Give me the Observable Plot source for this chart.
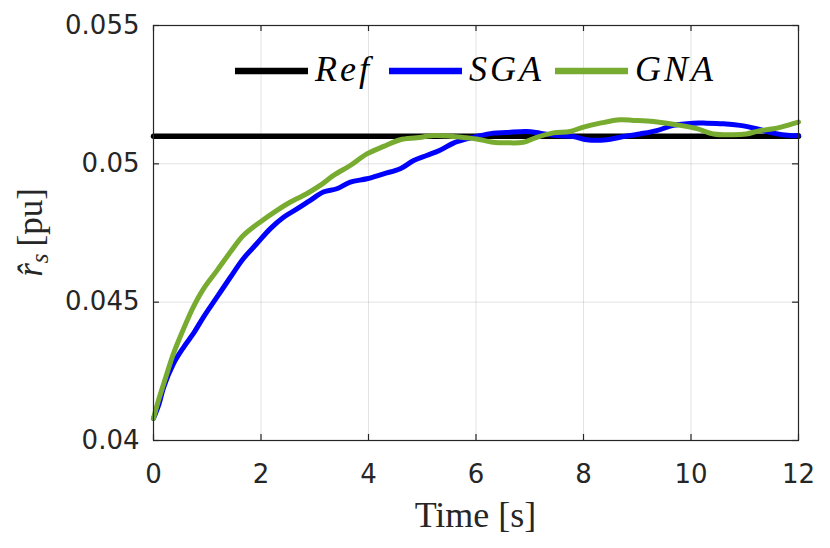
<!DOCTYPE html>
<html>
<head>
<meta charset="utf-8">
<script src="https://cdn.jsdelivr.net/npm/d3@7"></script>
<script src="https://cdn.jsdelivr.net/npm/@observablehq/plot@0.6"></script>
<style>
  html, body { margin: 0; padding: 0; background: #fff; }
  #wrap { position: relative; width: 830px; height: 548px; }
  #overlay { position: absolute; left: 0; top: 0; pointer-events: none; }
</style>
</head>
<body>
<div id="wrap"></div>
<script>
// ---- data ----
const seriesNames = ["Ref", "SGA", "GNA"];
const seriesColors = ["#000000", "#0000ff", "#77ac30"];

const refTime = [0, 12];
const refValue = [0.051, 0.051];

const sgaTime = [0, 0.1, 0.19, 0.37, 0.56, 0.74, 0.93, 1.18, 1.43, 1.67, 1.92, 2.17, 2.42, 2.67, 2.91, 3.16, 3.41, 3.66, 3.97, 4.28, 4.59, 4.84, 5.08, 5.33, 5.58, 5.83, 6.01, 6.32, 6.57, 6.94, 7.19, 7.50, 7.81, 8.06, 8.43, 8.68, 9.05, 9.36, 9.67, 10.04, 10.29, 10.60, 10.91, 11.22, 11.53, 11.84, 12];
const sgaValue = [0.0408, 0.0413, 0.04193, 0.04277, 0.04337, 0.04386, 0.04446, 0.04518, 0.0459, 0.04657, 0.04711, 0.04765, 0.04807, 0.04837, 0.04867, 0.04898, 0.0491, 0.04934, 0.04946, 0.04964, 0.04982, 0.05012, 0.0503, 0.05049, 0.05075, 0.0509, 0.05099, 0.05111, 0.05113, 0.05117, 0.05111, 0.05102, 0.05099, 0.05087, 0.05087, 0.05096, 0.05108, 0.0512, 0.05139, 0.05147, 0.05147, 0.05145, 0.05139, 0.05127, 0.05111, 0.05102, 0.05102];

const gnaTime = [0, 0.1, 0.19, 0.37, 0.56, 0.74, 0.93, 1.18, 1.43, 1.67, 1.98, 2.29, 2.54, 2.85, 3.10, 3.35, 3.66, 3.97, 4.28, 4.59, 4.90, 5.21, 5.52, 5.83, 6.01, 6.32, 6.57, 6.88, 7.13, 7.44, 7.75, 8.00, 8.31, 8.68, 8.93, 9.30, 9.55, 9.80, 10.11, 10.42, 10.79, 11.03, 11.28, 11.60, 11.84, 12];
const gnaValue = [0.0408, 0.0415, 0.04205, 0.04313, 0.04404, 0.04482, 0.04548, 0.04614, 0.04681, 0.04741, 0.04789, 0.04831, 0.04861, 0.04892, 0.04922, 0.04958, 0.04994, 0.05036, 0.05063, 0.05087, 0.05094, 0.05102, 0.05100, 0.05094, 0.05090, 0.05078, 0.05076, 0.05078, 0.05096, 0.05112, 0.05117, 0.05133, 0.05147, 0.05159, 0.05157, 0.05153, 0.05147, 0.05139, 0.05127, 0.05108, 0.05105, 0.05108, 0.05120, 0.05129, 0.05142, 0.05151];

const xTicks = [0, 2, 4, 6, 8, 10, 12];
const yTicks = [0.04, 0.045, 0.05, 0.055];
const yTickLabels = ["0.04", "0.045", "0.05", "0.055"];
const xLabel = "Time [s]";

// ---- build tables ----
const toRows = (ts, vs, name) => ts.map((t, i) => ({t, v: vs[i], name}));
const refRows = toRows(refTime, refValue, "Ref");
const sgaRows = toRows(sgaTime, sgaValue, "SGA");
const gnaRows = toRows(gnaTime, gnaValue, "GNA");

// ---- layout ----
const W = 830, H = 548;
const mL = 153, mR = 32, mT = 25, mB = 108;
const fw = W - mL - mR, fh = H - mT - mB;
const tl = 6;
const axisColor = "#262626";

const chart = Plot.plot({
  width: W, height: H,
  marginLeft: mL, marginRight: mR, marginTop: mT, marginBottom: mB,
  style: {background: "#fff"},
  x: {domain: [0, 12]},
  y: {domain: [0.04, 0.055]},
  marks: [
    Plot.gridX({ticks: xTicks, stroke: axisColor, strokeOpacity: 0.13}),
    Plot.gridY({ticks: yTicks, stroke: axisColor, strokeOpacity: 0.13}),
    Plot.lineY(refRows, {x: "t", y: "v", stroke: seriesColors[0], strokeWidth: 5.5}),
    Plot.lineY(sgaRows, {x: "t", y: "v", stroke: seriesColors[1], strokeWidth: 5, curve: "catmull-rom"}),
    Plot.lineY(gnaRows, {x: "t", y: "v", stroke: seriesColors[2], strokeWidth: 5, curve: "catmull-rom"}),
    Plot.frame({stroke: axisColor, strokeWidth: 1.2}),
    // inward ticks
    Plot.gridX({ticks: xTicks, insetTop: fh - tl, stroke: axisColor, strokeOpacity: 1, strokeWidth: 1.2}),
    Plot.gridX({ticks: xTicks, insetBottom: fh - tl, stroke: axisColor, strokeOpacity: 1, strokeWidth: 1.2}),
    Plot.gridY({ticks: yTicks, insetRight: fw - tl, stroke: axisColor, strokeOpacity: 1, strokeWidth: 1.2}),
    Plot.gridY({ticks: yTicks, insetLeft: fw - tl, stroke: axisColor, strokeOpacity: 1, strokeWidth: 1.2}),
    Plot.axisX({ticks: xTicks, tickSize: 0, tickPadding: 24, label: null,
      fontSize: 26, fontFamily: "DejaVu Sans", fill: axisColor}),
    Plot.axisY({ticks: yTicks, tickSize: 0, tickPadding: 14, label: null,
      tickFormat: d => yTickLabels[yTicks.indexOf(d)],
      fontSize: 26, fontFamily: "DejaVu Sans", fill: axisColor})
  ]
});

const wrap = document.getElementById("wrap");
wrap.appendChild(chart);

// ---- overlay: legend and axis titles ----
const ov = d3.select(wrap).append("svg")
  .attr("id", "overlay").attr("width", W).attr("height", H);

// x title
ov.append("text")
  .attr("x", mL + fw / 2).attr("y", 527)
  .attr("text-anchor", "middle")
  .attr("font-family", "Liberation Serif").attr("font-size", 36)
  .attr("fill", axisColor)
  .text(xLabel);

// y title: r-hat subscript s [pu]
const yt = ov.append("text")
  .attr("transform", `translate(42,${mT + fh / 2}) rotate(-90)`)
  .attr("text-anchor", "middle")
  .attr("font-family", "Liberation Serif").attr("font-size", 35)
  .attr("fill", axisColor);
yt.append("tspan").attr("font-style", "italic").text("r\u0302");
yt.append("tspan").attr("font-style", "italic").attr("font-size", 25).attr("dy", 6).text("s");
yt.append("tspan").attr("dy", -6).text("\u2009[pu]");

// legend
const legX = [235, 389, 555];
const legLineLen = 73;
const legY = 71;
seriesNames.forEach((name, i) => {
  ov.append("line")
    .attr("x1", legX[i]).attr("x2", legX[i] + legLineLen)
    .attr("y1", legY).attr("y2", legY)
    .attr("stroke", seriesColors[i]).attr("stroke-width", 6.5);
  ov.append("text")
    .attr("x", legX[i] + legLineLen + 7).attr("y", 81)
    .attr("font-family", "Liberation Serif").attr("font-style", "italic")
    .attr("font-size", 36).attr("letter-spacing", 3).attr("fill", "#000")
    .text(name);
});
</script>
</body>
</html>
